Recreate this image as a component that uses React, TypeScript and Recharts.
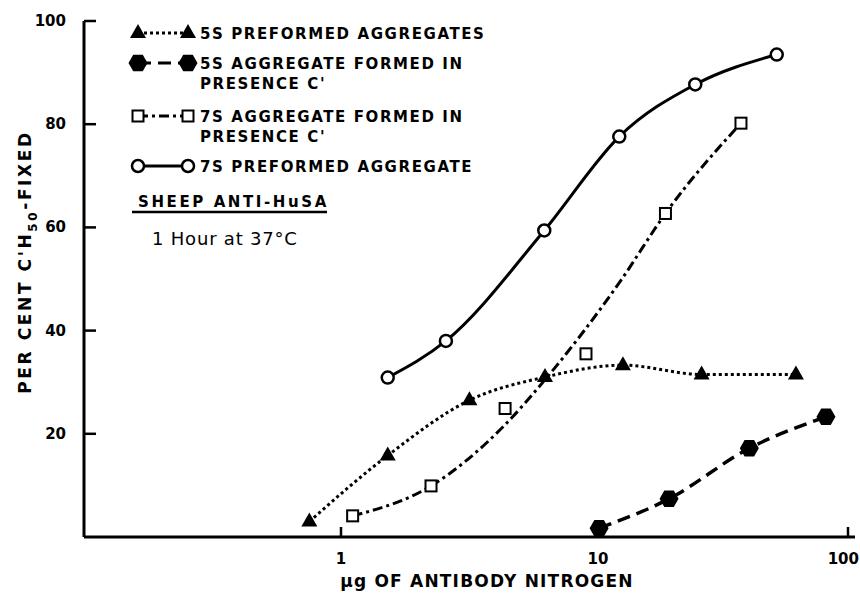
import React from "react";
import { LineChart, Line, XAxis, YAxis } from "recharts";

// values (x = µg antibody N, log scale; y = % C'H50 fixed)
const circleX = [1.52, 2.56, 6.18, 12.1, 23.9, 49.6];
const circleY = [30.9, 38.0, 59.4, 77.6, 87.7, 93.5];
const triX = [0.753, 1.52, 3.16, 6.22, 12.5, 25.3, 58.9];
const triY = [3.0, 15.8, 26.5, 31.0, 33.3, 31.5, 31.5];
const hexX = [10.1, 18.9, 38.8, 77.1];
const hexY = [1.7, 7.4, 17.2, 23.3];
const sqX = [1.11, 2.24, 4.35, 8.98, 18.3, 36.0];
const sqY = [4.1, 9.9, 24.9, 35.5, 62.7, 80.2];
// the hand-drawn dash-dot curve through the 7S squares (not through every point)
const sqCurveX = [1.11, 2.24, 4.3, 6.2, 12.3, 18.3, 36.0];
const sqCurveY = [4.1, 9.9, 21.5, 30.4, 49.8, 62.7, 80.2];

const xTicks = [1, 10, 100];
const yTicks = [20, 40, 60, 80, 100];

const legendRows = [
  { kind: "tri", lines: ["5S PREFORMED AGGREGATES"], dash: "3 3" },
  { kind: "hex", lines: ["5S AGGREGATE FORMED IN", "PRESENCE C'"], dash: "13 7" },
  { kind: "sq", lines: ["7S AGGREGATE FORMED IN", "PRESENCE C'"], dash: "10 4 3 4" },
  { kind: "circ", lines: ["7S PREFORMED AGGREGATE"], dash: "" },
];

const zip = (xs: number[], ys: number[]) => xs.map((x, i) => ({ x, y: ys[i] }));

const FONT = "'DejaVu Sans', sans-serif";

function Marker({ kind, cx, cy }: { kind: string; cx: number; cy: number }) {
  if (kind === "tri") {
    return <polygon points={`${cx},${cy - 9} ${cx - 8},${cy + 5} ${cx + 8},${cy + 5}`} fill="#000" />;
  }
  if (kind === "hex") {
    const r = 9.5;
    const pts = [0, 60, 120, 180, 240, 300]
      .map((a) => `${cx + r * Math.cos((a * Math.PI) / 180)},${cy + r * Math.sin((a * Math.PI) / 180)}`)
      .join(" ");
    return <polygon points={pts} fill="#000" />;
  }
  if (kind === "sq") {
    return <rect x={cx - 5.5} y={cy - 5.5} width={11} height={11} fill="#fff" stroke="#000" strokeWidth={2} />;
  }
  return <circle cx={cx} cy={cy} r={6} fill="#fff" stroke="#000" strokeWidth={2.5} />;
}

const dotOf = (kind: string) => (p: any) => (
  <Marker key={`${kind}-${p.index}`} kind={kind} cx={p.cx} cy={p.cy} />
);

function XTick({ x, y, payload }: any) {
  // the last label sits at the right edge of the page; keep it whole
  const last = payload.value === xTicks[xTicks.length - 1];
  return (
    <g>
      <line x1={x} x2={x} y1={y} y2={y - 10} stroke="#000" strokeWidth={2.5} />
      <text
        x={last ? 859 : x}
        y={y + 27}
        textAnchor={last ? "end" : "middle"}
        fontFamily={FONT}
        fontWeight="bold"
        fontSize={15}
        fill="#000"
      >
        {payload.value}
      </text>
    </g>
  );
}

function YTick({ x, y, payload }: any) {
  return (
    <g>
      <line x1={x} x2={x + 12} y1={y} y2={y} stroke="#000" strokeWidth={2.5} />
      <text x={x - 18} y={y + 5} textAnchor="end" fontFamily={FONT} fontWeight="bold" fontSize={15} fill="#000">
        {payload.value}
      </text>
    </g>
  );
}

export default function App() {
  return (
    <div style={{ position: "absolute", left: 0, top: 0, width: 860, height: 594, background: "#fff" }}>
      <LineChart width={860} height={594} margin={{ top: 21, right: 5, bottom: 0, left: 0 }}>
        <XAxis
          dataKey="x"
          type="number"
          scale="log"
          domain={[0.1, 100]}
          ticks={xTicks}
          allowDataOverflow
          height={57}
          tickSize={0}
          tickMargin={0}
          tickLine={false}
          tick={<XTick />}
          axisLine={{ stroke: "#000", strokeWidth: 3 }}
        />
        <YAxis
          dataKey="y"
          type="number"
          domain={[0, 100]}
          ticks={yTicks}
          width={84}
          tickSize={0}
          tickMargin={0}
          tickLine={false}
          tick={<YTick />}
          axisLine={{ stroke: "#000", strokeWidth: 3 }}
        />
        <Line
          data={zip(sqCurveX, sqCurveY)}
          dataKey="y"
          type="monotone"
          stroke="#000"
          strokeWidth={3}
          strokeDasharray="10 4 3 4"
          dot={false}
          activeDot={false}
          isAnimationActive={false}
        />
        <Line
          data={zip(sqX, sqY)}
          dataKey="y"
          stroke="none"
          dot={dotOf("sq")}
          activeDot={false}
          isAnimationActive={false}
        />
        <Line
          data={zip(triX, triY)}
          dataKey="y"
          type="monotone"
          stroke="#000"
          strokeWidth={3}
          strokeDasharray="3 3"
          dot={dotOf("tri")}
          activeDot={false}
          isAnimationActive={false}
        />
        <Line
          data={zip(hexX, hexY)}
          dataKey="y"
          type="monotone"
          stroke="#000"
          strokeWidth={3.5}
          strokeDasharray="13 7"
          dot={dotOf("hex")}
          activeDot={false}
          isAnimationActive={false}
        />
        <Line
          data={zip(circleX, circleY)}
          dataKey="y"
          type="monotone"
          stroke="#000"
          strokeWidth={3}
          dot={dotOf("circ")}
          activeDot={false}
          isAnimationActive={false}
        />
      </LineChart>

      <svg
        width={860}
        height={594}
        style={{ position: "absolute", left: 0, top: 0, pointerEvents: "none" }}
        fontFamily={FONT}
      >
        {/* legend */}
        {legendRows.map((r, i) => {
          const cy = [33, 63, 116, 166][i];
          return (
            <g key={r.kind}>
              <line x1={138} x2={188} y1={cy} y2={cy} stroke="#000" strokeWidth={3} strokeDasharray={r.dash || undefined} />
              <Marker kind={r.kind} cx={138} cy={cy} />
              <Marker kind={r.kind} cx={188} cy={cy} />
              {r.lines.map((t, j) => (
                <text key={j} x={200} y={cy + 6 + j * 20} fontSize={15} fontWeight="bold" letterSpacing={1.6} fill="#000">
                  {t}
                </text>
              ))}
            </g>
          );
        })}
        <text x={138} y={207} fontSize={15} fontWeight="bold" letterSpacing={2.6} fill="#000">
          SHEEP ANTI-HuSA
        </text>
        <line x1={132} x2={327} y1={212} y2={212} stroke="#000" strokeWidth={2.5} />
        <text x={152} y={245} fontSize={18} letterSpacing={0.8} fill="#000">
          1 Hour at 37°C
        </text>

        {/* axis titles */}
        <text
          transform="translate(31,262) rotate(-90)"
          textAnchor="middle"
          fontSize={17}
          fontWeight="bold"
          letterSpacing={2.6}
          fill="#000"
        >
          PER CENT C'H<tspan dy={6} fontSize={12}>50</tspan>
          <tspan dy={-6}>-FIXED</tspan>
        </text>
        <text x={487} y={587} textAnchor="middle" fontSize={17} fontWeight="bold" letterSpacing={1.2} fill="#000">
          µg OF ANTIBODY NITROGEN
        </text>
      </svg>
    </div>
  );
}
